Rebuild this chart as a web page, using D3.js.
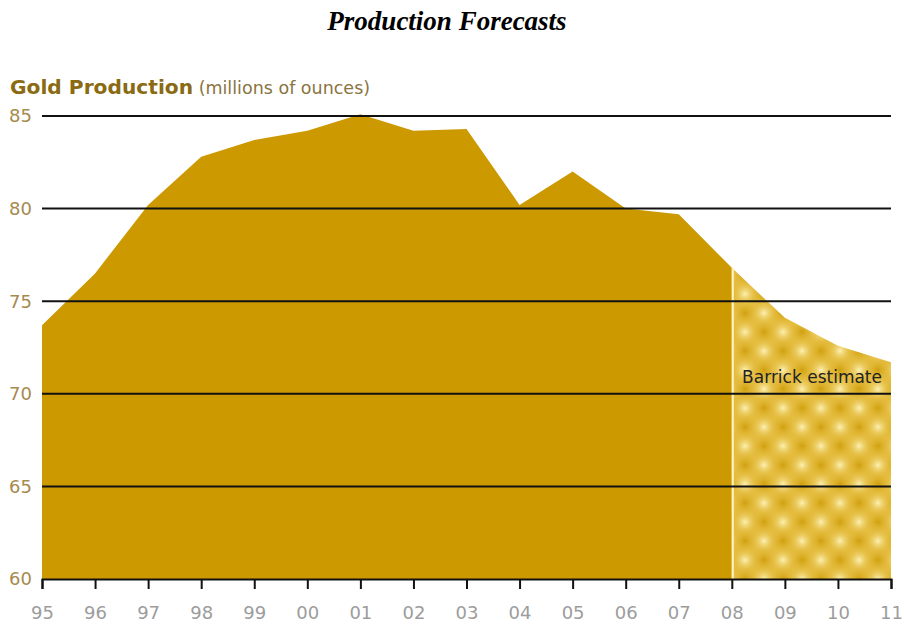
<!DOCTYPE html>
<html>
<head>
<meta charset="utf-8">
<script src="https://cdn.jsdelivr.net/npm/d3@7"></script>
<style>
  body { margin: 0; background: #fff; }
  svg { display: block; }
</style>
</head>
<body>
<svg id="chart"></svg>
<script>
// chart data
const years = ["95", "96", "97", "98", "99", "00", "01", "02", "03", "04", "05", "06", "07", "08", "09", "10", "11"];
const production = [73.7, 76.5, 80.2, 82.8, 83.7, 84.2, 85.1, 84.2, 84.3, 80.2, 82.0, 80.0, 79.7, 76.8, 74.1, 72.6, 71.7];
const estimateFrom = "08";
const yTicks = [60, 65, 70, 75, 80, 85];

const width = 904, height = 626;
const plotLeft = 42, plotRight = 891, plotTop = 116, plotBottom = 579;

let svg = d3.select("#chart")
    .attr("width", width)
    .attr("height", height);

let x = d3.scalePoint()
    .domain(years)
    .range([plotLeft, plotRight]);

let y = d3.scaleLinear()
    .domain([60, 85])
    .range([plotBottom, plotTop]);

// soft dotted pattern for the estimate part
let defs = svg.append("defs");
let dark = defs.append("radialGradient").attr("id", "darkDot");
dark.append("stop").attr("offset", "0%").attr("stop-color", "#cc9a05").attr("stop-opacity", 0.85);
dark.append("stop").attr("offset", "100%").attr("stop-color", "#e4bc3e").attr("stop-opacity", 0);
let light = defs.append("radialGradient").attr("id", "lightDot");
light.append("stop").attr("offset", "0%").attr("stop-color", "#fff7c0").attr("stop-opacity", 0.9);
light.append("stop").attr("offset", "100%").attr("stop-color", "#e4bc3e").attr("stop-opacity", 0);

const cell = 19;
let pat = defs.append("pattern")
    .attr("id", "estimate")
    .attr("patternUnits", "userSpaceOnUse")
    .attr("x", 726)
    .attr("y", 408)
    .attr("width", cell * 2)
    .attr("height", cell * 2);
pat.append("rect").attr("width", cell * 2).attr("height", cell * 2).attr("fill", "#e4bc3e");
for (let i = 0; i <= 2; i++) {
  for (let j = 0; j <= 2; j++) {
    pat.append("circle")
        .attr("cx", i * cell).attr("cy", j * cell)
        .attr("r", 13)
        .attr("fill", (i + j) % 2 === 0 ? "url(#darkDot)" : "url(#lightDot)");
  }
}

let data = years.map((yr, i) => ({year: yr, value: production[i]}));
let split = years.indexOf(estimateFrom);

let area = d3.area()
    .x(d => x(d.year))
    .y0(y(60))
    .y1(d => y(d.value));

// actual production
svg.append("path")
    .datum(data.slice(0, split + 1))
    .attr("d", area)
    .attr("fill", "#cc9900");

// Barrick estimate
svg.append("path")
    .datum(data.slice(split))
    .attr("d", area)
    .attr("fill", "url(#estimate)");

svg.append("line")
    .attr("x1", x(estimateFrom) + 1).attr("x2", x(estimateFrom) + 1)
    .attr("y1", y(data[split].value)).attr("y2", plotBottom)
    .attr("stroke", "#fdf3c0")
    .attr("stroke-width", 2);

// gridlines
svg.append("g")
  .selectAll("line")
  .data(yTicks.slice(1))
  .join("line")
    .attr("x1", plotLeft).attr("x2", plotRight)
    .attr("y1", d => y(d)).attr("y2", d => y(d))
    .attr("stroke", "#111")
    .attr("stroke-width", 2);

// y labels
svg.append("g")
  .selectAll("text")
  .data(yTicks)
  .join("text")
    .attr("x", 9)
    .attr("y", d => y(d))
    .attr("dy", "0.35em")
    .attr("font-family", "DejaVu Sans, Verdana, sans-serif")
    .attr("font-size", 18)
    .attr("fill", "#a68a4e")
    .text(d => d);

// x axis
let xAxis = svg.append("g")
    .attr("transform", `translate(0,${plotBottom})`)
    .call(d3.axisBottom(x).tickSize(10).tickPadding(17));
xAxis.select(".domain").attr("stroke", "#111").attr("stroke-width", 2);
xAxis.selectAll(".tick line").attr("stroke", "#111").attr("stroke-width", 2);
xAxis.selectAll(".tick text")
    .attr("font-family", "DejaVu Sans, Verdana, sans-serif")
    .attr("font-size", 18)
    .attr("fill", "#9c9c9c");

svg.append("text")
    .attr("x", x("11") - 9)
    .attr("y", 377)
    .attr("dy", "0.35em")
    .attr("text-anchor", "end")
    .attr("font-family", "DejaVu Sans, Verdana, sans-serif")
    .attr("font-size", 17)
    .attr("fill", "#222")
    .text("Barrick estimate");

// titles
let sub = svg.append("text")
    .attr("x", 10)
    .attr("y", 94)
    .attr("font-family", "DejaVu Sans, Verdana, sans-serif")
    .attr("fill", "#8a6a12");
sub.append("tspan")
    .attr("font-size", 20.2)
    .attr("font-weight", "bold")
    .text("Gold Production");
sub.append("tspan")
    .attr("font-size", 17.5)
    .attr("fill", "#8a7440")
    .text(" (millions of ounces)");

svg.append("text")
    .attr("x", 447)
    .attr("y", 30)
    .attr("text-anchor", "middle")
    .attr("font-family", "Liberation Serif, Times New Roman, serif")
    .attr("font-size", 27)
    .attr("font-weight", "bold")
    .attr("font-style", "italic")
    .text("Production Forecasts");
</script>
</body>
</html>
